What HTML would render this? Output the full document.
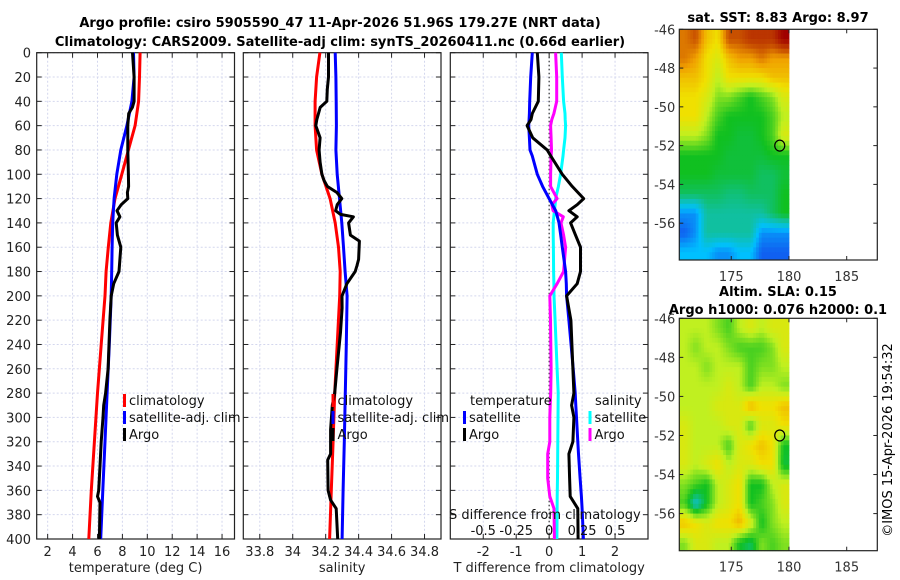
<!DOCTYPE html>
<html><head><meta charset="utf-8"><style>
html,body{margin:0;padding:0;background:#fff;}
svg{display:block;font-family:"DejaVu Sans","Liberation Sans",sans-serif;}
</style></head><body>
<svg id="fig" width="900" height="580" viewBox="0 0 900 580" xmlns="http://www.w3.org/2000/svg">
<rect width="900" height="580" fill="#fff"/>
<text x="340" y="27" text-anchor="middle" font-size="13" font-weight="bold">Argo profile: csiro 5905590_47 11-Apr-2026 51.96S 179.27E (NRT data)</text>
<text x="340" y="46" text-anchor="middle" font-size="13" font-weight="bold">Climatology: CARS2009. Satellite-adj clim: synTS_20260411.nc (0.66d earlier)</text>
<text x="778" y="22" text-anchor="middle" font-size="13" font-weight="bold">sat. SST: 8.83 Argo: 8.97</text>
<text x="778" y="296" text-anchor="middle" font-size="13" font-weight="bold">Altim. SLA: 0.15</text>
<text x="778" y="314" text-anchor="middle" font-size="13" font-weight="bold">Argo h1000: 0.076 h2000: 0.1</text>
<text transform="translate(892,440) rotate(-90)" text-anchor="middle" font-size="13">©IMOS 15-Apr-2026 19:54:32</text>
<g id="layer"></g>
</svg>
<script>
// ---------- profile data ----------
const climDepth = [0,20,40,60,80,100,120,140,160,180,200,240,280,320,360,400];
const tempClim  = [9.42,9.37,9.3,9.02,8.48,7.95,7.41,7.07,6.87,6.69,6.6,6.3,6.0,5.75,5.5,5.3];
const tempSat   = [8.89,8.94,8.76,8.36,7.87,7.55,7.33,7.22,7.17,7.14,7.1,6.95,6.77,6.6,6.43,6.26];
const argoTDepth = [0,20,40,45,50,60,80,100,110,115,120,125,130,135,140,150,160,180,190,200,220,260,280,290,300,320,340,360,365,370,400];
const tempArgo   = [8.81,8.94,8.94,8.8,8.51,8.43,8.43,8.48,8.5,8.4,8.43,7.9,7.57,7.8,7.5,7.6,7.87,7.73,7.3,7.1,7.0,6.85,6.65,6.5,6.44,6.3,6.2,6.1,6.0,6.2,6.15];
const salClim = [34.165,34.145,34.136,34.136,34.145,34.177,34.227,34.258,34.278,34.288,34.285,34.27,34.255,34.245,34.234,34.224];
const salSat  = [34.258,34.262,34.264,34.265,34.262,34.27,34.284,34.298,34.308,34.318,34.33,34.325,34.319,34.313,34.306,34.30];
const argoSDepth = [0,20,30,40,45,55,60,70,80,90,100,105,110,115,120,125,130,133,135,140,150,155,170,175,180,190,200,210,230,260,280,290,310,330,335,360,368,375,400];
const salArgo    = [34.217,34.217,34.21,34.207,34.167,34.146,34.14,34.166,34.16,34.166,34.177,34.19,34.21,34.268,34.298,34.27,34.26,34.29,34.368,34.339,34.35,34.405,34.40,34.39,34.379,34.329,34.299,34.3,34.29,34.268,34.255,34.24,34.23,34.23,34.212,34.215,34.23,34.264,34.273];
const diffDepth = [0,20,40,50,55,60,70,80,85,100,110,120,125,130,135,140,150,160,180,190,200,220,260,280,290,300,320,330,350,365,375,400];
const dTSat  = [-0.51,-0.56,-0.59,-0.6,-0.61,-0.62,-0.6,-0.58,-0.51,-0.36,-0.2,0.0,0.1,0.2,0.25,0.3,0.35,0.4,0.5,0.52,0.53,0.6,0.73,0.79,0.81,0.83,0.87,0.89,0.94,0.98,1.0,1.04];
const dTArgo = [-0.36,-0.31,-0.33,-0.51,-0.55,-0.67,-0.5,-0.06,0.05,0.4,0.7,1.05,0.85,0.6,0.85,0.65,0.8,0.95,0.95,0.85,0.53,0.66,0.72,0.75,0.68,0.75,0.72,0.6,0.62,0.64,0.87,0.88];
const dSSat  = [0.092,0.1,0.11,0.12,0.122,0.125,0.12,0.11,0.105,0.087,0.07,0.049,0.045,0.04,0.035,0.031,0.031,0.032,0.034,0.036,0.037,0.045,0.06,0.069,0.068,0.067,0.066,0.065,0.063,0.061,0.06,0.059];
const dSArgo = [0.049,0.057,0.057,0.036,0.02,0.011,0.015,0.018,0.015,0.011,0.011,0.06,0.02,0.03,0.107,0.09,0.11,0.125,0.11,0.06,0.005,0.01,0.015,0.012,0.008,0.005,0.005,-0.011,-0.011,0.005,0.037,0.04];
const depthTicks = [0,20,40,60,80,100,120,140,160,180,200,220,240,260,280,300,320,340,360,380,400];
const tempTicks = [2,4,6,8,10,12,14,16];
const salTicks = [33.8,34,34.2,34.4,34.6,34.8];
const dTTicks = [-2,-1,0,1,2];
const dSTicks = [-0.5,-0.25,0,0.25,0.5];
// ---------- map data (rows -46..-58, cols 170.5..180) ----------
const sstGrid = [
[8,8.5,7,6.5,8.5,8.5,9,9,9,10],
[8,7.5,6.5,6,7,7.5,7.5,8,7.5,7.5],
[7,7,6.5,5.5,6.5,6.5,6.5,6.5,7,7],
[6.5,6.5,6,5,5,4.5,4,4.5,5,6],
[6.5,6.5,5.5,4.5,4,4,4,4,4.5,5.5],
[5.5,5.5,5,4,4,3.8,3.8,4,4.5,6],
[4,4,4,4,3.8,3.8,3.8,3.8,4,4],
[4,4,4,3.8,3.8,3.8,3.8,3.5,3.5,3.8],
[3.5,3.5,3.5,3.5,3.3,3.3,3.5,3.5,3.5,4],
[1.5,1.5,3,3,3,3,3,3,3.5,4],
[1,1.5,3,3,3,3,3,1.5,1.5,1.5],
[2,2,2,1.5,1.5,2,2,1,1,1]];
const slaGrid = [
[5.5,5.5,5.5,5,4.5,5.5,6,5.5,6,6],
[5.5,5,5.5,5.5,5,4.5,4.5,4.5,5,6],
[5.5,5.5,5,5.5,5.5,5.5,4.5,5,5,5.5],
[5.5,5.5,5.5,5.5,6,5.5,4.5,5.5,5.5,5],
[5.5,5.5,5.5,6,6,6,7.2,6.5,6.5,7],
[6,5.5,5.5,5.5,6,6,4.5,6,6,6.5],
[6,5.5,5.5,5.5,4.5,6,6.5,7,6.5,4],
[6,5.5,6,6.5,5.5,6,6,6.5,6.5,3.8],
[5,4.5,4,5.5,6,6.5,4,4,5.5,6],
[4.5,2.5,4,5.5,6,6.5,4,4.5,5,6],
[7,6.5,6,6.5,6.5,7.2,6,4,5,5.5],
[5,6,6,5.5,5.5,4,3.5,5,4.5,5]];
const latTicks = [-46,-48,-50,-52,-54,-56];
const lonTicks = [175,180,185];
const floatLon = 179.2, floatLat = -52;

const NS = "http://www.w3.org/2000/svg";
const layer = document.getElementById('layer');
function mk(tag, attrs, parent){ const e=document.createElementNS(NS,tag); for(const k in attrs) e.setAttribute(k,attrs[k]); (parent||layer).appendChild(e); return e; }

const yTop=52.7, yBot=539;
const yD = d => yTop + (d/400)*(yBot-yTop);

function panel(name, x0, x1, xmin, xmax, ticks, title){
  const sx = v => x0 + (v-xmin)/(xmax-xmin)*(x1-x0);
  const g = mk('g',{});
  
  
  depthTicks.forEach(d=>{ mk('line',{x1:x0,x2:x1,y1:yD(d),y2:yD(d),stroke:'#d4d7ee','stroke-width':1,'stroke-dasharray':'2,2'},g); });
  ticks.forEach(t=>{ mk('line',{x1:sx(t),x2:sx(t),y1:yTop,y2:yBot,stroke:'#d4d7ee','stroke-width':1,'stroke-dasharray':'2,2'},g); });
  depthTicks.forEach(d=>{
    mk('line',{x1:x0,x2:x0+5,y1:yD(d),y2:yD(d),stroke:'#222'},g);
    mk('line',{x1:x1-5,x2:x1,y1:yD(d),y2:yD(d),stroke:'#222'},g);
  });
  ticks.forEach(t=>{
    mk('line',{x1:sx(t),x2:sx(t),y1:yBot-5,y2:yBot,stroke:'#222'},g);
    mk('line',{x1:sx(t),x2:sx(t),y1:yTop,y2:yTop+5,stroke:'#222'},g);
    const tl = mk('text',{x:sx(t),y:556,'text-anchor':'middle','font-size':13,fill:'#222'},g);
    
    
    tl.textContent = String(t);
  });
  mk('rect',{x:x0,y:yTop,width:x1-x0,height:yBot-yTop,fill:'none',stroke:'#222','stroke-width':1.2},g);
  const at = mk('text',{x:(x0+x1)/2,y:572,'text-anchor':'middle','font-size':13,fill:'#222'},g);
  
  
  at.textContent = title;
  return {sx,g};
}
function series(g, sx, depths, vals, color, name){
  const pts = depths.map((d,i)=> sx(vals[i]).toFixed(1)+','+yD(d).toFixed(1)).join(' ');
  const p = mk('polyline',{points:pts,fill:'none',stroke:color,'stroke-width':3,'stroke-linejoin':'round'},g);
  
  
}
function legend(g, x, y, color, label){
  mk('rect',{x:x,y:y-11,width:3,height:13,fill:color},g);
  const t = mk('text',{x:x+6,y:y,'font-size':13,fill:'#111'},g);
  
  
  t.textContent = label;
}

depthTicks.forEach(d=>{
  const t = mk('text',{x:31,y:yD(d)+5,'text-anchor':'end','font-size':13,fill:'#222'});
  
  
  t.textContent = String(d);
});

const p1 = panel('temperature-panel', 36.7, 234.5, 1.12, 17.0, tempTicks, 'temperature (deg C)');
series(p1.g, p1.sx, climDepth, tempClim, '#f00', 'temp-climatology-line');
series(p1.g, p1.sx, climDepth, tempSat, '#00f', 'temp-satellite-line');
series(p1.g, p1.sx, argoTDepth, tempArgo, '#000', 'temp-argo-line');
legend(p1.g, 123, 405, '#f00', 'climatology');
legend(p1.g, 123, 422, '#00f', 'satellite-adj. clim');
legend(p1.g, 123, 439, '#000', 'Argo');

const p2 = panel('salinity-panel', 243.3, 441, 33.7, 34.9, salTicks, 'salinity');
series(p2.g, p2.sx, climDepth, salClim, '#f00', 'sal-climatology-line');
series(p2.g, p2.sx, climDepth, salSat, '#00f', 'sal-satellite-line');
series(p2.g, p2.sx, argoSDepth, salArgo, '#000', 'sal-argo-line');
legend(p2.g, 331.5, 405, '#f00', 'climatology');
legend(p2.g, 331.5, 422, '#00f', 'satellite-adj. clim');
legend(p2.g, 331.5, 439, '#000', 'Argo');

const p3 = panel('difference-panel', 450.3, 648, -3, 3, dTTicks, 'T difference from climatology');
const sxS = v => p3.sx(v*4);
mk('line',{x1:p3.sx(0),x2:p3.sx(0),y1:yTop,y2:yBot,stroke:'#333','stroke-width':1.2,'stroke-dasharray':'1.5,2.5'},p3.g);
series(p3.g, sxS, diffDepth, dSSat, '#0ff', 'sal-diff-satellite-line');
series(p3.g, sxS, diffDepth, dSArgo, '#f0f', 'sal-diff-argo-line');
series(p3.g, p3.sx, diffDepth, dTSat, '#00f', 'temp-diff-satellite-line');
series(p3.g, p3.sx, diffDepth, dTArgo, '#000', 'temp-diff-argo-line');
(function(){
  const t = mk('text',{x:470,y:405,'font-size':13,fill:'#111'},p3.g);
  
  
  t.textContent='temperature';
  const s = mk('text',{x:595,y:405,'font-size':13,fill:'#111'},p3.g);
  
  
  s.textContent='salinity';
  const a = mk('text',{x:449,y:519,'font-size':13,fill:'#111'},p3.g);
  
  
  a.textContent='S difference from climatology';
})();
legend(p3.g, 463, 422, '#00f', 'satellite');
legend(p3.g, 463, 439, '#000', 'Argo');
legend(p3.g, 588.5, 422, '#0ff', 'satellite');
legend(p3.g, 588.5, 439, '#f0f', 'Argo');
dSTicks.forEach(t=>{
  const l = mk('text',{x:sxS(t),y:535,'text-anchor':'middle','font-size':13,fill:'#111'},p3.g);
  
  
  l.textContent = String(t);
});

// ---------- maps ----------
const cstops = [[0,[0,48,208]],[1,[16,96,240]],[2,[0,192,255]],[3,[16,192,160]],[4,[16,192,32]],[5,[128,224,32]],[5.5,[192,240,32]],[6.5,[240,224,0]],[7.5,[240,160,0]],[8.5,[200,80,0]],[10,[160,0,0]]];
function cmap(v){
  for(let i=0;i<cstops.length-1;i++){
    const a=cstops[i],b=cstops[i+1];
    if(v<=b[0]){ const f=Math.max(0,(v-a[0])/(b[0]-a[0])); const c=a[1].map((x,j)=>Math.round(x+(b[1][j]-x)*f)); return 'rgb('+c.join(',')+')'; }
  }
  return 'rgb(160,0,0)';
}
function sample(grid, r, c){
  const nr=grid.length, nc=grid[0].length;
  r=Math.min(Math.max(r,0),nr-1); c=Math.min(Math.max(c,0),nc-1);
  const r0=Math.floor(r), c0=Math.floor(c), r1=Math.min(r0+1,nr-1), c1=Math.min(c0+1,nc-1);
  const fr=r-r0, fc=c-c0;
  return grid[r0][c0]*(1-fr)*(1-fc)+grid[r0][c1]*(1-fr)*fc+grid[r1][c0]*fr*(1-fc)+grid[r1][c1]*fr*fc;
}
function map(name, grid, top, bot){
  const x0=679.3, x1=877.3, lonMin=170.5, lonMax=187.65, latTop=-46, latBot=-57.9;
  const sx = l => x0 + (l-lonMin)/(lonMax-lonMin)*(x1-x0);
  const sy = la => top + (latTop-la)/(latTop-latBot)*(bot-top);
  const g = mk('g',{});
  
  
  const nr=grid.length, nc=grid[0].length, cw=(180-lonMin)/nc, sub=4;
  for(let r=0;r<nr*sub;r++){
    for(let c=0;c<nc*sub;c++){
      const v = sample(grid, (r+0.5)/sub-0.5, (c+0.5)/sub-0.5);
      const la0 = latTop - r/sub, la1 = Math.max(latBot, latTop-(r+1)/sub);
      if(la0<=latBot) continue;
      const lo0 = lonMin + c*cw/sub, lo1 = lonMin+(c+1)*cw/sub;
      const cell = mk('rect',{x:sx(lo0),y:sy(la0),width:sx(lo1)-sx(lo0)+0.4,height:sy(la1)-sy(la0)+0.4,fill:cmap(v)},g);
      
      
    }
  }
  mk('rect',{x:x0,y:top,width:x1-x0,height:bot-top,fill:'none',stroke:'#222','stroke-width':1.2},g);
  latTicks.forEach(la=>{
    mk('line',{x1:x0,x2:x0+4,y1:sy(la),y2:sy(la),stroke:'#222'},g);
    mk('line',{x1:x1-4,x2:x1,y1:sy(la),y2:sy(la),stroke:'#222'},g);
    const t = mk('text',{x:x0-4,y:sy(la)+5,'text-anchor':'end','font-size':13,fill:'#333'},g);
    
    
    t.textContent = String(la);
  });
  lonTicks.forEach(lo=>{
    mk('line',{x1:sx(lo),x2:sx(lo),y1:bot-4,y2:bot,stroke:'#222'},g);
    mk('line',{x1:sx(lo),x2:sx(lo),y1:top,y2:top+4,stroke:'#222'},g);
    const t = mk('text',{x:sx(lo),y:bot+21,'text-anchor':'middle','font-size':13,fill:'#333'},g);
    
    
    t.textContent = String(lo);
  });
  const c = mk('ellipse',{cx:sx(floatLon),cy:sy(floatLat),rx:5,ry:5.5,fill:'none',stroke:'#000','stroke-width':1.2},g);
  
  
}
map('sst-map', sstGrid, 29.3, 260);
map('sla-map', slaGrid, 318.3, 550.7);
</script>
</body></html>
